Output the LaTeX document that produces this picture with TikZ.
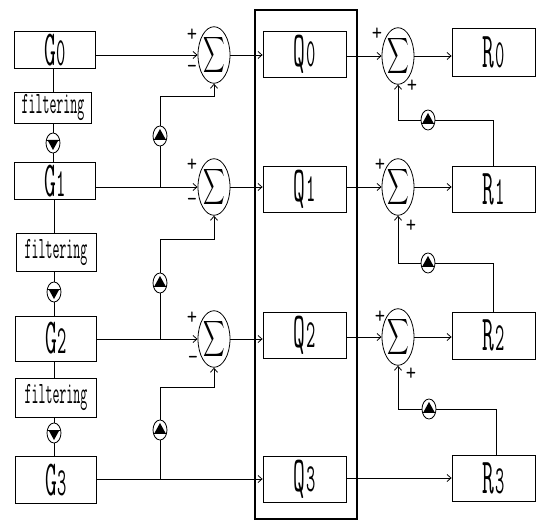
\documentclass[tikz,border=0pt]{standalone}
\usepackage{fontspec}
\usepackage{graphicx}
\usetikzlibrary{shapes.geometric,arrows.meta}
\newcommand\blk[2]{\scalebox{0.95}[2.1]{\ttfamily\fontsize{24}{24}\selectfont #1\fontsize{19}{19}\selectfont\kern1pt #2}}
\newcommand\filt{\scalebox{1}[2.3]{\ttfamily\fontsize{13.5}{14}\selectfont filtering}}
\newcommand\sig{\scalebox{1.5}[2.5]{$\displaystyle\sum$}}
\newcommand\plus{\scalebox{1}[1.2]{\ttfamily\fontsize{20}{20}\selectfont +}}
\newcommand\minus{\scalebox{1}[1.2]{\ttfamily\fontsize{20}{20}\selectfont -}}
\begin{document}
\begin{tikzpicture}[x=1pt,y=-1pt,line width=0.8pt,
 box/.style={draw,minimum width=81pt,inner sep=0pt},
 sumnode/.style={draw,ellipse,minimum width=32pt,minimum height=45pt,inner sep=0pt},
 upmark/.style={draw,ellipse,minimum width=14pt,minimum height=20pt,inner sep=0pt,
   path picture={\fill ([yshift=7pt]path picture bounding box.center) -- ++(-5.5pt,-10pt) -- ++(11pt,0pt) -- cycle;
   \draw ([xshift=-7pt,yshift=-3pt]path picture bounding box.center) -- ++(14pt,0pt);}},
 downmark/.style={draw,ellipse,minimum width=14pt,minimum height=20pt,inner sep=0pt,
   path picture={\fill ([yshift=-7pt]path picture bounding box.center) -- ++(-5.5pt,10pt) -- ++(11pt,0pt) -- cycle;
   \draw ([xshift=-7pt,yshift=3pt]path picture bounding box.center) -- ++(14pt,0pt);}},
 arr/.style={-{Straight Barb[length=4pt,width=7pt]}},
 sign/.style={inner sep=0pt}]
\useasboundingbox (0,0) rectangle (537,521);
% left column
\node[box,minimum height=37pt] (G0) at (55,50) {\blk{G}{0}};
\node[box,minimum width=77pt,minimum height=31pt] (F1) at (53,107.5) {\filt};
\node[downmark] (D1) at (53,143) {};
\node[box,minimum height=37pt] (G1) at (55,181) {\blk{G}{1}};
\node[box,minimum width=80pt,minimum height=38pt] (F2) at (56,252) {\filt};
\node[downmark] (D2) at (54,292) {};
\node[box,minimum height=45pt] (G2) at (56,338.5) {\blk{G}{2}};
\node[box,minimum height=39pt] (F3) at (56,397.5) {\filt};
\node[downmark] (D3) at (54,433) {};
\node[box,minimum height=47pt] (G3) at (56,480) {\blk{G}{3}};
% sums
\node[sumnode] (S0) at (214,55) {\sig};
\node[sumnode] (S1) at (214,187) {\sig};
\node[sumnode] (S2) at (214,339) {\sig};
\node[sumnode] (T0) at (398,56) {\sig};
\node[sumnode] (T1) at (398,187) {\sig};
\node[sumnode] (T2) at (398,337) {\sig};
% big frame
\node[draw,line width=2pt,minimum width=102pt,minimum height=509pt,inner sep=0pt] (frame) at (305.5,264.5) {};
% Q and R
\node[box,minimum width=83pt,minimum height=46pt] (Q0) at (304.5,54) {\blk{Q}{0}};
\node[box,minimum width=83pt,minimum height=46pt] (Q1) at (304.5,189) {\blk{Q}{1}};
\node[box,minimum width=83pt,minimum height=46pt] (Q2) at (304.5,335) {\blk{Q}{2}};
\node[box,minimum width=83pt,minimum height=46pt] (Q3) at (304.5,479) {\blk{Q}{3}};
\node[box,minimum width=83pt,minimum height=48pt] (R0) at (493.5,52) {\blk{R}{0}};
\node[box,minimum width=83pt,minimum height=46pt] (R1) at (493.5,189) {\blk{R}{1}};
\node[box,minimum width=83pt,minimum height=47pt] (R2) at (493.5,335.5) {\blk{R}{2}};
\node[box,minimum width=83pt,minimum height=46pt] (R3) at (493.5,478) {\blk{R}{3}};
% markers
\node[upmark] (U0) at (160,136) {};
\node[upmark] (U1) at (160,283) {};
\node[upmark] (U2) at (160,430) {};
\node[upmark] (V0) at (428,120) {};
\node[upmark] (V1) at (428,263) {};
\node[upmark] (V2) at (429,409) {};
% signs
\node[sign] (p0) at (192,35) {\plus};
\node[sign] (m0) at (192,69) {\minus};
\node[sign] (p1) at (192,165) {\plus};
\node[sign] (m1) at (192,202) {\minus};
\node[sign] (p2) at (192,318) {\plus};
\node[sign] (m2) at (193,360) {\minus};
\node[sign] (q0) at (377,34) {\plus};
\node[sign] (r0) at (412,86) {\plus};
\node[sign] (q1) at (380,165) {\plus};
\node[sign] (r1) at (411,226) {\plus};
\node[sign] (q2) at (380,317) {\plus};
\node[sign] (r2) at (411,374) {\plus};
% vertical links left
\draw (G0.south -| D1) -- (F1.north -| D1);
\draw (F1.south -| D1) -- (D1);
\draw (D1) -- (G1.north -| D1);
\draw (G1.south -| D2) -- (F2.north -| D2);
\draw (F2.south -| D2) -- (D2);
\draw (D2) -- (G2.north -| D2);
\draw (G2.south -| D3) -- (F3.north -| D3);
\draw (F3.south -| D3) -- (D3);
\draw (D3) -- (G3.north -| D3);
% main rows
\draw[arr] (G0.east |- S0) -- (S0);
\draw[arr] (S0) -- (Q0.west |- S0);
\draw[arr] (Q0.east |- T0) -- (T0);
\draw[arr] (T0) -- (R0.west |- T0);
\draw[arr] (G1.east |- S1) -- (S1);
\draw[arr] (S1) -- (Q1.west |- S1);
\draw[arr] (Q1.east |- T1) -- (T1);
\draw[arr] (T1) -- (R1.west |- T1);
\draw[arr] (G2.east |- S2) -- (S2);
\draw[arr] (S2) -- (Q2.west |- S2);
\draw[arr] (Q2.east |- T2) -- (T2);
\draw[arr] (T2) -- (R2.west |- T2);
\draw[arr] (G3.east |- Q3) -- (Q3.west);
\draw[arr] (Q3.east |- R3) -- (R3.west);
% left feedback
\coordinate (b0) at (160,187);
\coordinate (b1) at (160,339);
\coordinate (b2) at (160,479);
\coordinate (c0) at (160,96);
\coordinate (c1) at (160,239);
\coordinate (c2) at (160,387);
\draw (b0) -- (U0);
\draw[arr] (U0) -- (c0) -| (S0.south);
\draw (b1) -- (U1);
\draw[arr] (U1) -- (c1) -| (S1.south);
\draw (b2) -- (U2);
\draw[arr] (U2) -- (c2) -| (S2.south);
% right feedback
\draw (R1.north) |- (V0);
\draw[arr] (V0) -| (T0.south);
\draw (R2.north) |- (V1);
\draw[arr] (V1) -| (T1.south);
\draw ([xshift=3pt]R3.north) |- (V2);
\draw[arr] (V2) -| (T2.south);
\end{tikzpicture}
\end{document}
